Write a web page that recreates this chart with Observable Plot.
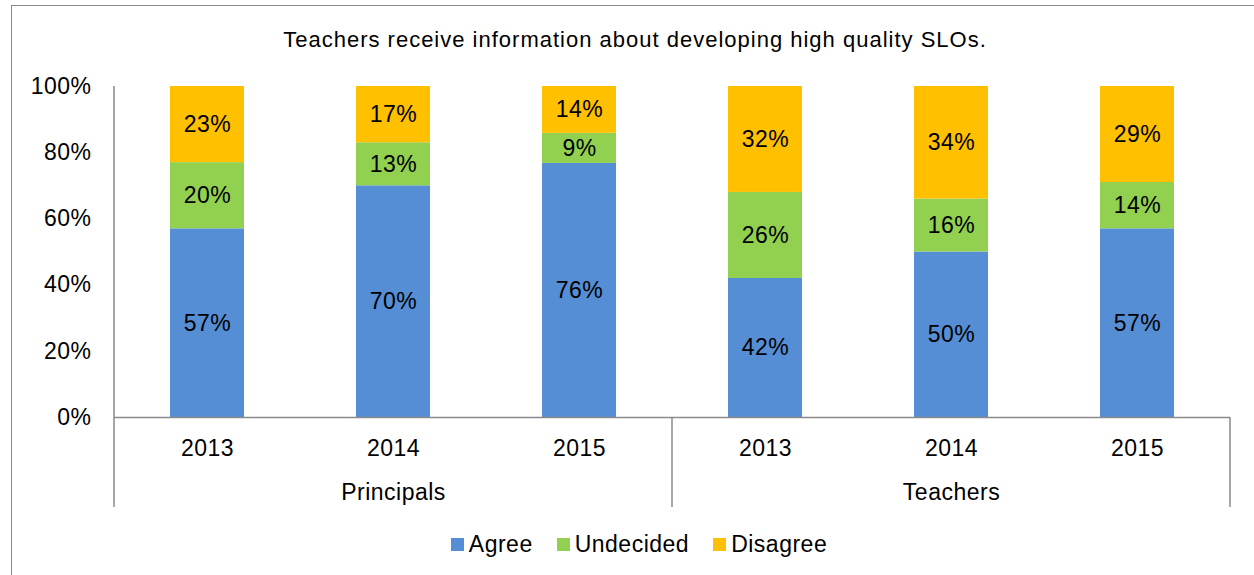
<!DOCTYPE html>
<html>
<head>
<meta charset="utf-8">
<script src="https://cdn.jsdelivr.net/npm/d3@7"></script>
<script src="https://cdn.jsdelivr.net/npm/@observablehq/plot@0.6"></script>
<style>
  html, body { margin: 0; padding: 0; background: #fff; overflow: hidden; }
  body { width: 1254px; height: 575px; position: relative; font-family: "Liberation Sans", Arial, sans-serif; color: #000; }
  #frame { position: absolute; left: 11px; top: 5px; width: 1300px; height: 640px; border: 1.5px solid #8a8a8a; box-sizing: border-box; }
  #wrap { position: absolute; left: 0; top: 0; width: 1254px; }
  #title { height: 60px; box-sizing: border-box; padding-top: 29px; padding-left: 16px; text-align: center; font-size: 22px; line-height: 22px; letter-spacing: 1px; }
  #chart svg { display: block; }
  #legend { display: flex; justify-content: center; align-items: center; padding-left: 24px; padding-top: 5px; font-size: 23px; line-height: 28px; letter-spacing: 0.5px; }
  .item { display: flex; align-items: center; margin: 0 12px; }
  .sw { width: 13px; height: 13px; margin-right: 5px; }
</style>
</head>
<body>
<div id="frame"></div>
<div id="wrap">
  <div id="title"></div>
  <div id="chart"></div>
  <div id="legend"></div>
</div>
<script>
const titleText = "Teachers receive information about developing high quality SLOs.";
const groups = ["Principals", "Principals", "Principals", "Teachers", "Teachers", "Teachers"];
const years = ["2013", "2014", "2015", "2013", "2014", "2015"];
const agree = [57, 70, 76, 42, 50, 57];
const undecided = [20, 13, 9, 26, 16, 14];
const disagree = [23, 17, 14, 32, 34, 29];
const responses = ["Agree", "Undecided", "Disagree"];
const colors = ["#558ED5", "#92D050", "#FFC000"];
const yTicks = [0, 0.2, 0.4, 0.6, 0.8, 1];

const series = [agree, undecided, disagree];
const keys = groups.map((g, i) => g + " " + years[i]);
const yearOf = Object.fromEntries(keys.map((k, i) => [k, years[i]]));
const rows = [];
keys.forEach((k, i) => {
  responses.forEach((r, j) => rows.push({key: k, group: groups[i], year: years[i], response: r, value: series[j][i]}));
});
const groupNames = Array.from(new Set(groups));
const groupCenterKeys = groupNames.map(g => {
  const ks = keys.filter((k, i) => groups[i] === g);
  return ks[Math.floor(ks.length / 2)];
});

document.getElementById("title").textContent = titleText;

const axisColor = "#8a8a8a";

function separators(index, scales, values, dimensions) {
  const x = scales.x, y = scales.y;
  const dom = x.domain();
  const step = x(dom[1]) - x(dom[0]);
  const bw = x.bandwidth ? x.bandwidth() : 0;
  const half = (step - bw) / 2;
  const bottom = dimensions.height - 18;
  const g = d3.create("svg:g").attr("stroke", axisColor).attr("stroke-width", 1.5);
  const x0 = x(dom[0]) - half;
  g.append("line").attr("x1", x0).attr("x2", x0).attr("y1", y(1)).attr("y2", bottom);
  groupNames.forEach((gName) => {
    const ks = keys.filter((k, i) => groups[i] === gName);
    const last = ks[ks.length - 1];
    const xe = x(last) + bw + half;
    g.append("line").attr("x1", xe).attr("x2", xe).attr("y1", y(0)).attr("y2", bottom);
  });
  return g.node();
}

const chart = Plot.plot({
  width: 1254,
  height: 465,
  marginTop: 26,
  marginBottom: 108,
  marginLeft: 114,
  marginRight: 24,
  style: {fontFamily: "'Liberation Sans', Arial, sans-serif", fontSize: "23px", color: "#000", background: "transparent", overflow: "visible", letterSpacing: "0.5px"},
  x: {domain: keys, paddingInner: 0.6, paddingOuter: 0.3, axis: null},
  y: {domain: [0, 1], axis: null},
  color: {domain: responses, range: colors},
  marks: [
    Plot.barY(rows, Plot.stackY({x: "key", y: "value", fill: "response", offset: "normalize"})),
    Plot.text(rows, Plot.stackY({x: "key", y: "value", z: "response", offset: "normalize", text: d => d.value + "%", fill: "#000", fontSize: 23})),
    Plot.ruleY([0], {stroke: axisColor, strokeWidth: 1.5}),
    Plot.axisY({ticks: yTicks, tickSize: 0, tickPadding: 23, tickFormat: d => Math.round(d * 100) + "%", fontSize: 23, label: null}),
    Plot.axisX({tickSize: 0, tickPadding: 22, tickFormat: k => yearOf[k], fontSize: 23, label: null}),
    Plot.text(groupNames, {x: groupCenterKeys, text: groupNames, frameAnchor: "bottom", dy: 82, fontSize: 23, fill: "#000"}),
    separators
  ]
});
document.getElementById("chart").appendChild(chart);

const legend = document.getElementById("legend");
responses.forEach((r, i) => {
  const item = document.createElement("div");
  item.className = "item";
  const sw = document.createElement("div");
  sw.className = "sw";
  sw.style.background = colors[i];
  const t = document.createElement("span");
  t.textContent = r;
  item.appendChild(sw);
  item.appendChild(t);
  legend.appendChild(item);
});
</script>
</body>
</html>
